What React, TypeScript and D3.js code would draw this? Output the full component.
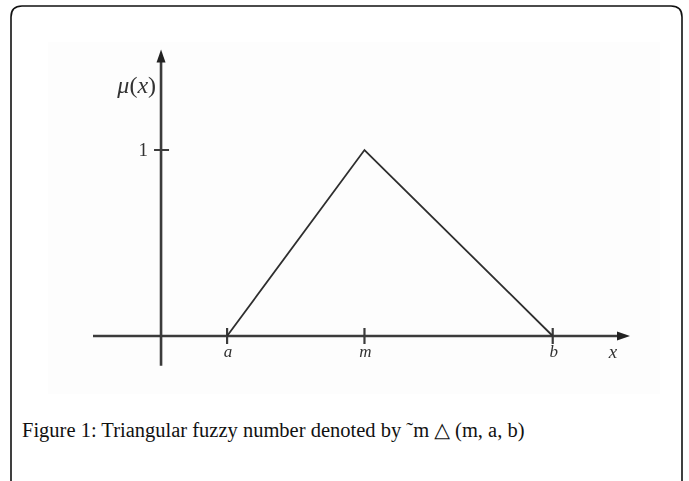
import React from "react";
import * as d3 from "d3";

// Triangular membership function: support [a, b], peak at m
const pointNames = ["a", "m", "b"];
const pointX = [1, 3.08, 5.93];
const membership = [0, 1, 0];
const yTickValues = [1];
const yTickLabels = ["1"];
const caption = "Figure 1: Triangular fuzzy number denoted by \u02DCm \u25B3 (m, a, b)";

const W = 689;
const H = 481;
const serif = "'Liberation Serif', 'DejaVu Serif', serif";

export default function App() {
  const x = d3.scaleLinear().domain([-1.03, 7.1]).range([93, 630]);
  const y = d3.scaleLinear().domain([0, 1]).range([336, 150]);

  const pts: [number, number][] = pointX.map((v, i) => [v, membership[i]]);
  const line = d3
    .line<[number, number]>()
    .x((d) => x(d[0]))
    .y((d) => y(d[1]));

  const x0 = x(0);
  const y0 = y(0);
  const xEnd = x(7.1);
  const yTop = y(1.54);
  const yBottom = y(-0.16);
  const axisColor = "#3a3a3a";

  const frame = `M11,${H} V17 Q11,6 22,6 H671 Q682,6 682,17 V${H}`;

  return (
    <svg
      width={W}
      height={H}
      style={{ position: "absolute", left: 0, top: 0, background: "#fff" }}
    >
      <defs>
        <filter id="soft" x="-5%" y="-5%" width="110%" height="110%">
          <feGaussianBlur stdDeviation="0.55" />
        </filter>
      </defs>
      <path d={frame} fill="none" stroke="#111" strokeWidth={1.6} />
      <rect x={48} y={42} width={612} height={352} fill="#fdfdfd" />

      <g filter="url(#soft)">
        {/* x axis */}
        <line x1={93} x2={xEnd - 8} y1={y0} y2={y0} stroke={axisColor} strokeWidth={2.6} />
        <path
          d={`M${xEnd},${y0} L${xEnd - 13},${y0 - 4.5} L${xEnd - 13},${y0 + 4.5} Z`}
          fill="#222"
        />
        {/* y axis */}
        <line x1={x0} x2={x0} y1={yBottom} y2={yTop + 8} stroke={axisColor} strokeWidth={2.6} />
        <path
          d={`M${x0},${yTop} L${x0 - 4.5},${yTop + 13} L${x0 + 4.5},${yTop + 13} Z`}
          fill="#222"
        />
        {/* y ticks */}
        {yTickValues.map((v, i) => (
          <g key={`yt${i}`}>
            <line x1={x0 - 7} x2={x0 + 8} y1={y(v)} y2={y(v)} stroke={axisColor} strokeWidth={2} />
            <text
              x={x0 - 13}
              y={y(v) + 6}
              textAnchor="end"
              fontFamily={serif}
              fontSize={19}
              fill="#333"
            >
              {yTickLabels[i]}
            </text>
          </g>
        ))}
        {/* x ticks */}
        {pointX.map((v, i) => (
          <g key={`xt${i}`}>
            <line x1={x(v)} x2={x(v)} y1={y0 - 8} y2={y0 + 8} stroke={axisColor} strokeWidth={2.2} />
            <text
              x={x(v) + 1}
              y={y0 + 21}
              textAnchor="middle"
              fontFamily={serif}
              fontStyle="italic"
              fontSize={17}
              fill="#333"
            >
              {pointNames[i]}
            </text>
          </g>
        ))}
        {/* triangle */}
        <path d={line(pts) ?? ""} fill="none" stroke="#2e2e2e" strokeWidth={1.8} />
        {/* axis labels */}
        <text x={x0 - 5} y={93} textAnchor="end" fontFamily={serif} fontSize={24} fill="#333">
          <tspan fontStyle="italic">{"\u03BC"}</tspan>
          <tspan>(</tspan>
          <tspan fontStyle="italic">x</tspan>
          <tspan>)</tspan>
        </text>
        <text
          x={613}
          y={y0 + 22}
          textAnchor="middle"
          fontFamily={serif}
          fontStyle="italic"
          fontSize={19}
          fill="#333"
        >
          x
        </text>
      </g>

      <text x={22} y={437} fontFamily={serif} fontSize={20.5} fill="#111">
        {caption}
      </text>
    </svg>
  );
}
